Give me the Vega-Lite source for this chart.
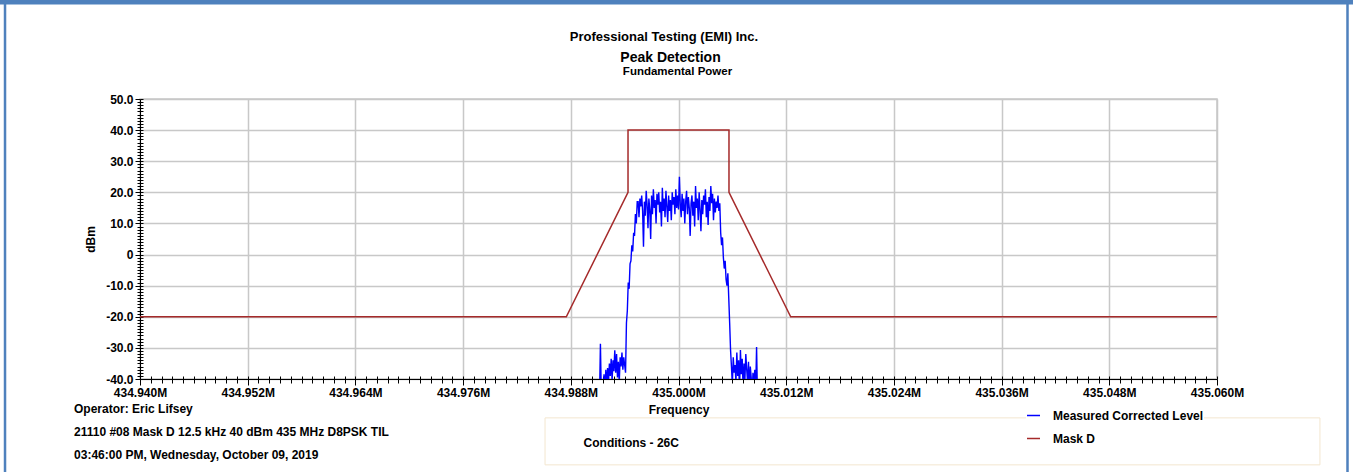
{
  "$schema": "https://vega.github.io/schema/vega-lite/v6.json",
  "width": 1077,
  "height": 280,
  "autosize": "none",
  "padding": {"left": 140, "top": 99, "right": 136, "bottom": 93},
  "background": "white",
  "resolve": {"axis": {"x": "independent", "y": "independent"}},
  "config": {
    "view": {"stroke": "#c8c8c8", "strokeWidth": 1.5},
    "axis": {
      "labelFont": "Liberation Sans", "labelFontWeight": "bold", "labelFontSize": 12, "labelColor": "black",
      "titleFont": "Liberation Sans", "titleFontWeight": "bold", "titleFontSize": 12, "titleColor": "black",
      "domainColor": "black", "tickColor": "black", "gridColor": "#c8c8c8", "gridWidth": 1.5
    },
    "text": {"font": "Liberation Sans", "fontWeight": "bold", "color": "black"}
  },
  "datasets": {
    "measured": [
      {"frequency": 434.9912, "dBm": -46}, {"frequency": 434.9913, "dBm": -28.7}, {"frequency": 434.9914, "dBm": -45}, {"frequency": 434.9915, "dBm": -44},
      {"frequency": 434.9916, "dBm": -46}, {"frequency": 434.9917, "dBm": -38.5}, {"frequency": 434.9918, "dBm": -44}, {"frequency": 434.9919, "dBm": -37},
      {"frequency": 434.992, "dBm": -42}, {"frequency": 434.9921, "dBm": -36.5}, {"frequency": 434.9922, "dBm": -41}, {"frequency": 434.9923, "dBm": -35},
      {"frequency": 434.9924, "dBm": -39}, {"frequency": 434.9925, "dBm": -33.5}, {"frequency": 434.9926, "dBm": -40.5}, {"frequency": 434.9927, "dBm": -34},
      {"frequency": 434.9928, "dBm": -37.5}, {"frequency": 434.9929, "dBm": -30.8}, {"frequency": 434.993, "dBm": -38}, {"frequency": 434.9931, "dBm": -32},
      {"frequency": 434.9932, "dBm": -39.5}, {"frequency": 434.9933, "dBm": -34.5}, {"frequency": 434.9934, "dBm": -41}, {"frequency": 434.9935, "dBm": -33},
      {"frequency": 434.9936, "dBm": -36}, {"frequency": 434.9937, "dBm": -31.5}, {"frequency": 434.9938, "dBm": -37}, {"frequency": 434.9939, "dBm": -33},
      {"frequency": 434.994, "dBm": -35.5}, {"frequency": 434.9941, "dBm": -38}, {"frequency": 434.9942, "dBm": -22}, {"frequency": 434.9943, "dBm": -18},
      {"frequency": 434.9944, "dBm": -9}, {"frequency": 434.9945, "dBm": -11}, {"frequency": 434.9946, "dBm": -3}, {"frequency": 434.9947, "dBm": -2},
      {"frequency": 434.9948, "dBm": 3}, {"frequency": 434.9949, "dBm": 1}, {"frequency": 434.995, "dBm": 7}, {"frequency": 434.9951, "dBm": 6},
      {"frequency": 434.9952, "dBm": 13}, {"frequency": 434.9953, "dBm": 10}, {"frequency": 434.9954, "dBm": 17}, {"frequency": 434.9955, "dBm": 17},
      {"frequency": 434.9956, "dBm": 12}, {"frequency": 434.9957, "dBm": 18}, {"frequency": 434.9958, "dBm": 15.5}, {"frequency": 434.9959, "dBm": 19},
      {"frequency": 434.996, "dBm": 14}, {"frequency": 434.9961, "dBm": 2.5}, {"frequency": 434.9962, "dBm": 17}, {"frequency": 434.9963, "dBm": 12.5},
      {"frequency": 434.9964, "dBm": 20.5}, {"frequency": 434.9965, "dBm": 16}, {"frequency": 434.9966, "dBm": 8.5}, {"frequency": 434.9967, "dBm": 18},
      {"frequency": 434.9968, "dBm": 14.5}, {"frequency": 434.9969, "dBm": 5}, {"frequency": 434.997, "dBm": 19}, {"frequency": 434.9971, "dBm": 13},
      {"frequency": 434.9972, "dBm": 21}, {"frequency": 434.9973, "dBm": 15}, {"frequency": 434.9974, "dBm": 17.5}, {"frequency": 434.9975, "dBm": 10},
      {"frequency": 434.9976, "dBm": 19.5}, {"frequency": 434.9977, "dBm": 16}, {"frequency": 434.9978, "dBm": 20}, {"frequency": 434.9979, "dBm": 13.5},
      {"frequency": 434.998, "dBm": 17}, {"frequency": 434.9981, "dBm": 9}, {"frequency": 434.9982, "dBm": 21.5}, {"frequency": 434.9983, "dBm": 14},
      {"frequency": 434.9984, "dBm": 18}, {"frequency": 434.9985, "dBm": 12}, {"frequency": 434.9986, "dBm": 20.5}, {"frequency": 434.9987, "dBm": 15.5},
      {"frequency": 434.9988, "dBm": 10.5}, {"frequency": 434.9989, "dBm": 19}, {"frequency": 434.999, "dBm": 14}, {"frequency": 434.9991, "dBm": 17.5},
      {"frequency": 434.9992, "dBm": 11}, {"frequency": 434.9993, "dBm": 20}, {"frequency": 434.9994, "dBm": 16}, {"frequency": 434.9995, "dBm": 18.5},
      {"frequency": 434.9996, "dBm": 13}, {"frequency": 434.9997, "dBm": 21}, {"frequency": 434.9998, "dBm": 15}, {"frequency": 434.9999, "dBm": 19},
      {"frequency": 435.0, "dBm": 14.5}, {"frequency": 435.0001, "dBm": 25}, {"frequency": 435.0002, "dBm": 16}, {"frequency": 435.0003, "dBm": 12},
      {"frequency": 435.0004, "dBm": 19.5}, {"frequency": 435.0005, "dBm": 14}, {"frequency": 435.0006, "dBm": 18}, {"frequency": 435.0007, "dBm": 10},
      {"frequency": 435.0008, "dBm": 17}, {"frequency": 435.0009, "dBm": 20.5}, {"frequency": 435.001, "dBm": 13}, {"frequency": 435.0011, "dBm": 18.5},
      {"frequency": 435.0012, "dBm": 15}, {"frequency": 435.0013, "dBm": 6}, {"frequency": 435.0014, "dBm": 16.5}, {"frequency": 435.0015, "dBm": 19},
      {"frequency": 435.0016, "dBm": 12.5}, {"frequency": 435.0017, "dBm": 17}, {"frequency": 435.0018, "dBm": 9}, {"frequency": 435.0019, "dBm": 22},
      {"frequency": 435.002, "dBm": 15}, {"frequency": 435.0021, "dBm": 18}, {"frequency": 435.0022, "dBm": 11}, {"frequency": 435.0023, "dBm": 20},
      {"frequency": 435.0024, "dBm": 14.5}, {"frequency": 435.0025, "dBm": 7.5}, {"frequency": 435.0026, "dBm": 17.5}, {"frequency": 435.0027, "dBm": 13},
      {"frequency": 435.0028, "dBm": 19}, {"frequency": 435.0029, "dBm": 16}, {"frequency": 435.003, "dBm": 21}, {"frequency": 435.0031, "dBm": 12},
      {"frequency": 435.0032, "dBm": 17}, {"frequency": 435.0033, "dBm": 9.5}, {"frequency": 435.0034, "dBm": 18.5}, {"frequency": 435.0035, "dBm": 14},
      {"frequency": 435.0036, "dBm": 22}, {"frequency": 435.0037, "dBm": 16.5}, {"frequency": 435.0038, "dBm": 19.5}, {"frequency": 435.0039, "dBm": 11},
      {"frequency": 435.004, "dBm": 18}, {"frequency": 435.0041, "dBm": 13.5}, {"frequency": 435.0042, "dBm": 17}, {"frequency": 435.0043, "dBm": 15},
      {"frequency": 435.0044, "dBm": 19}, {"frequency": 435.0045, "dBm": 14}, {"frequency": 435.0046, "dBm": 16.5}, {"frequency": 435.0047, "dBm": 7},
      {"frequency": 435.0048, "dBm": 3}, {"frequency": 435.0049, "dBm": 5.5}, {"frequency": 435.005, "dBm": -1}, {"frequency": 435.0051, "dBm": -4.5},
      {"frequency": 435.0052, "dBm": -2}, {"frequency": 435.0053, "dBm": -8}, {"frequency": 435.0054, "dBm": -10}, {"frequency": 435.0055, "dBm": -6},
      {"frequency": 435.0056, "dBm": -14}, {"frequency": 435.0057, "dBm": -22}, {"frequency": 435.0058, "dBm": -30.7}, {"frequency": 435.0059, "dBm": -36},
      {"frequency": 435.006, "dBm": -42}, {"frequency": 435.0061, "dBm": -33}, {"frequency": 435.0062, "dBm": -38}, {"frequency": 435.0063, "dBm": -35.5},
      {"frequency": 435.0064, "dBm": -41}, {"frequency": 435.0065, "dBm": -31.5}, {"frequency": 435.0066, "dBm": -39}, {"frequency": 435.0067, "dBm": -34},
      {"frequency": 435.0068, "dBm": -44}, {"frequency": 435.0069, "dBm": -30.7}, {"frequency": 435.007, "dBm": -38.5}, {"frequency": 435.0071, "dBm": -33.5},
      {"frequency": 435.0072, "dBm": -43}, {"frequency": 435.0073, "dBm": -35}, {"frequency": 435.0074, "dBm": -40}, {"frequency": 435.0075, "dBm": -32},
      {"frequency": 435.0076, "dBm": -37}, {"frequency": 435.0077, "dBm": -41}, {"frequency": 435.0078, "dBm": -34.5}, {"frequency": 435.0079, "dBm": -44},
      {"frequency": 435.008, "dBm": -36}, {"frequency": 435.0081, "dBm": -39.5}, {"frequency": 435.0082, "dBm": -45}, {"frequency": 435.0083, "dBm": -38},
      {"frequency": 435.0084, "dBm": -42}, {"frequency": 435.0085, "dBm": -37}, {"frequency": 435.0086, "dBm": -44}, {"frequency": 435.0087, "dBm": -29.7},
      {"frequency": 435.0088, "dBm": -46}
    ],
    "mask": [
      {"frequency": 434.94, "dBm": -20, "seq": 1},
      {"frequency": 434.9875, "dBm": -20, "seq": 2},
      {"frequency": 434.994375, "dBm": 20, "seq": 3},
      {"frequency": 434.994375, "dBm": 40, "seq": 4},
      {"frequency": 435.005625, "dBm": 40, "seq": 5},
      {"frequency": 435.005625, "dBm": 20, "seq": 6},
      {"frequency": 435.0125, "dBm": -20, "seq": 7},
      {"frequency": 435.06, "dBm": -20, "seq": 8}
    ],
    "one": [{}]
  },
  "layer": [
    {
      "data": {"name": "measured"},
      "mark": {"type": "line", "strokeWidth": 1.4, "clip": true},
      "encoding": {
        "x": {
          "field": "frequency", "type": "quantitative",
          "scale": {"domain": [434.94, 435.06], "nice": false, "zero": false},
          "axis": {
            "title": "Frequency", "titlePadding": 6, "orient": "bottom",
            "values": [434.94, 434.9412, 434.9424, 434.9436, 434.9448, 434.946, 434.9472, 434.9484, 434.9496, 434.9508,
                       434.952, 434.9532, 434.9544, 434.9556, 434.9568, 434.958, 434.9592, 434.9604, 434.9616, 434.9628,
                       434.964, 434.9652, 434.9664, 434.9676, 434.9688, 434.97, 434.9712, 434.9724, 434.9736, 434.9748,
                       434.976, 434.9772, 434.9784, 434.9796, 434.9808, 434.982, 434.9832, 434.9844, 434.9856, 434.9868,
                       434.988, 434.9892, 434.9904, 434.9916, 434.9928, 434.994, 434.9952, 434.9964, 434.9976, 434.9988,
                       435.0, 435.0012, 435.0024, 435.0036, 435.0048, 435.006, 435.0072, 435.0084, 435.0096, 435.0108,
                       435.012, 435.0132, 435.0144, 435.0156, 435.0168, 435.018, 435.0192, 435.0204, 435.0216, 435.0228,
                       435.024, 435.0252, 435.0264, 435.0276, 435.0288, 435.03, 435.0312, 435.0324, 435.0336, 435.0348,
                       435.036, 435.0372, 435.0384, 435.0396, 435.0408, 435.042, 435.0432, 435.0444, 435.0456, 435.0468,
                       435.048, 435.0492, 435.0504, 435.0516, 435.0528, 435.054, 435.0552, 435.0564, 435.0576, 435.0588,
                       435.06],
            "labelExpr": "abs((datum.value-434.94)/0.012 - round((datum.value-434.94)/0.012)) < 0.01 ? format(datum.value, '.3f') + 'M' : ''",
            "labelOverlap": false, "labelFlush": false, "labelBound": false, "labelPadding": 2,
            "grid": true,
            "gridOpacity": {"condition": {"test": "abs((datum.value-434.94)/0.012 - round((datum.value-434.94)/0.012)) < 0.01", "value": 1}, "value": 0},
            "tickSize": {"condition": {"test": "abs((datum.value-434.94)/0.012 - round((datum.value-434.94)/0.012)) < 0.01", "value": 6}, "value": 4}
          }
        },
        "y": {
          "field": "dBm", "type": "quantitative",
          "scale": {"domain": [-40, 50], "nice": false, "zero": false},
          "axis": {
            "title": "dBm", "titlePadding": 8, "orient": "left",
            "values": [-40, -39, -38, -37, -36, -35, -34, -33, -32, -31, -30, -29, -28, -27, -26, -25, -24, -23, -22, -21,
                       -20, -19, -18, -17, -16, -15, -14, -13, -12, -11, -10, -9, -8, -7, -6, -5, -4, -3, -2, -1,
                       0, 1, 2, 3, 4, 5, 6, 7, 8, 9, 10, 11, 12, 13, 14, 15, 16, 17, 18, 19,
                       20, 21, 22, 23, 24, 25, 26, 27, 28, 29, 30, 31, 32, 33, 34, 35, 36, 37, 38, 39,
                       40, 41, 42, 43, 44, 45, 46, 47, 48, 49, 50],
            "labelExpr": "datum.value % 10 == 0 ? (datum.value == 0 ? '0' : (datum.value < 0 ? '-' : '') + format(abs(datum.value), '.1f')) : ''",
            "labelOverlap": false, "labelFlush": false, "labelBound": false, "labelPadding": 2,
            "grid": true,
            "gridOpacity": {"condition": {"test": "datum.value % 10 == 0", "value": 1}, "value": 0},
            "tickSize": {"condition": {"test": "datum.value % 10 == 0", "value": 5}, "value": 3}
          }
        },
        "color": {
          "datum": "Measured Corrected Level", "type": "nominal",
          "scale": {"domain": ["Measured Corrected Level", "Mask D"], "range": ["#0000ff", "#a52a2a"]},
          "legend": {
            "title": null, "orient": "none", "legendX": 886, "legendY": 309,
            "symbolType": "stroke", "symbolSize": 169, "symbolStrokeWidth": 1.5,
            "labelFont": "Liberation Sans", "labelFontWeight": "bold", "labelFontSize": 12, "labelColor": "black",
            "labelOffset": 12, "rowPadding": 9, "padding": 0, "fillColor": "white"
          }
        }
      }
    },
    {
      "data": {"name": "mask"},
      "mark": {"type": "line", "strokeWidth": 1.5},
      "encoding": {
        "x": {
          "field": "frequency", "type": "quantitative",
          "axis": {
            "orient": "bottom", "title": null, "labels": false, "domain": false, "grid": false,
            "values": [434.94, 434.9412, 434.9424, 434.9436, 434.9448, 434.946, 434.9472, 434.9484, 434.9496, 434.9508,
                       434.952, 434.9532, 434.9544, 434.9556, 434.9568, 434.958, 434.9592, 434.9604, 434.9616, 434.9628,
                       434.964, 434.9652, 434.9664, 434.9676, 434.9688, 434.97, 434.9712, 434.9724, 434.9736, 434.9748,
                       434.976, 434.9772, 434.9784, 434.9796, 434.9808, 434.982, 434.9832, 434.9844, 434.9856, 434.9868,
                       434.988, 434.9892, 434.9904, 434.9916, 434.9928, 434.994, 434.9952, 434.9964, 434.9976, 434.9988,
                       435.0, 435.0012, 435.0024, 435.0036, 435.0048, 435.006, 435.0072, 435.0084, 435.0096, 435.0108,
                       435.012, 435.0132, 435.0144, 435.0156, 435.0168, 435.018, 435.0192, 435.0204, 435.0216, 435.0228,
                       435.024, 435.0252, 435.0264, 435.0276, 435.0288, 435.03, 435.0312, 435.0324, 435.0336, 435.0348,
                       435.036, 435.0372, 435.0384, 435.0396, 435.0408, 435.042, 435.0432, 435.0444, 435.0456, 435.0468,
                       435.048, 435.0492, 435.0504, 435.0516, 435.0528, 435.054, 435.0552, 435.0564, 435.0576, 435.0588,
                       435.06],
            "tickSize": -3
          }
        },
        "y": {
          "field": "dBm", "type": "quantitative",
          "axis": {
            "orient": "left", "title": null, "labels": false, "domain": false, "grid": false,
            "values": [-40, -39, -38, -37, -36, -35, -34, -33, -32, -31, -30, -29, -28, -27, -26, -25, -24, -23, -22, -21,
                       -20, -19, -18, -17, -16, -15, -14, -13, -12, -11, -10, -9, -8, -7, -6, -5, -4, -3, -2, -1,
                       0, 1, 2, 3, 4, 5, 6, 7, 8, 9, 10, 11, 12, 13, 14, 15, 16, 17, 18, 19,
                       20, 21, 22, 23, 24, 25, 26, 27, 28, 29, 30, 31, 32, 33, 34, 35, 36, 37, 38, 39,
                       40, 41, 42, 43, 44, 45, 46, 47, 48, 49, 50],
            "tickSize": -3
          }
        },
        "order": {"field": "seq", "type": "quantitative"},
        "color": {"datum": "Mask D", "type": "nominal"}
      }
    },
    {
      "data": {"name": "one"},
      "mark": {"type": "rect", "color": "#4f81bd"},
      "encoding": {
        "x": {"datum": 434.924, "type": "quantitative", "axis": null},
        "x2": {"datum": 435.0756},
        "y": {"datum": 82.2, "type": "quantitative", "axis": null},
        "y2": {"datum": 80.4}
      }
    },
    {
      "data": {"name": "one"},
      "mark": {"type": "rect", "filled": false, "stroke": "#4f81bd", "strokeWidth": 2.5},
      "encoding": {
        "x": {"datum": 434.92496, "type": "quantitative", "axis": null},
        "x2": {"datum": 435.07454},
        "y": {"datum": 81, "type": "quantitative", "axis": null},
        "y2": {"datum": -75}
      }
    },
    {
      "data": {"name": "one"},
      "mark": {"type": "rect", "filled": false, "stroke": "#f3e6cf", "strokeWidth": 1},
      "encoding": {
        "x": {"datum": 434.98513, "type": "quantitative", "axis": null},
        "x2": {"datum": 435.07147},
        "y": {"datum": -52.5, "type": "quantitative", "axis": null},
        "y2": {"datum": -67.6}
      }
    },
    {
      "data": {"name": "one"},
      "mark": {"type": "text", "fontSize": 13, "align": "center", "baseline": "middle"},
      "encoding": {
        "x": {"datum": 434.99838, "type": "quantitative", "axis": null},
        "y": {"datum": 70.0, "type": "quantitative", "axis": null},
        "text": {"value": "Professional Testing (EMI) Inc."}
      }
    },
    {
      "data": {"name": "one"},
      "mark": {"type": "text", "fontSize": 14, "align": "center", "baseline": "middle"},
      "encoding": {
        "x": {"datum": 434.99911, "type": "quantitative", "axis": null},
        "y": {"datum": 63.3, "type": "quantitative", "axis": null},
        "text": {"value": "Peak Detection"}
      }
    },
    {
      "data": {"name": "one"},
      "mark": {"type": "text", "fontSize": 11.5, "align": "center", "baseline": "middle"},
      "encoding": {
        "x": {"datum": 434.99989, "type": "quantitative", "axis": null},
        "y": {"datum": 58.8, "type": "quantitative", "axis": null},
        "text": {"value": "Fundamental Power"}
      }
    },
    {
      "data": {"name": "one"},
      "mark": {"type": "text", "fontSize": 12, "align": "left", "baseline": "middle"},
      "encoding": {
        "x": {"datum": 434.93265, "type": "quantitative", "axis": null},
        "y": {"datum": -49.6, "type": "quantitative", "axis": null},
        "text": {"value": "Operator: Eric Lifsey"}
      }
    },
    {
      "data": {"name": "one"},
      "mark": {"type": "text", "fontSize": 12, "align": "left", "baseline": "middle"},
      "encoding": {
        "x": {"datum": 434.93265, "type": "quantitative", "axis": null},
        "y": {"datum": -57.0, "type": "quantitative", "axis": null},
        "text": {"value": "21110 #08 Mask D 12.5 kHz 40 dBm 435 MHz D8PSK TIL"}
      }
    },
    {
      "data": {"name": "one"},
      "mark": {"type": "text", "fontSize": 12, "align": "left", "baseline": "middle"},
      "encoding": {
        "x": {"datum": 434.93265, "type": "quantitative", "axis": null},
        "y": {"datum": -64.4, "type": "quantitative", "axis": null},
        "text": {"value": "03:46:00 PM, Wednesday, October 09, 2019"}
      }
    },
    {
      "data": {"name": "one"},
      "mark": {"type": "text", "fontSize": 12, "align": "center", "baseline": "middle"},
      "encoding": {
        "x": {"datum": 434.99474, "type": "quantitative", "axis": null},
        "y": {"datum": -60.6, "type": "quantitative", "axis": null},
        "text": {"value": "Conditions - 26C"}
      }
    }
  ]
}
